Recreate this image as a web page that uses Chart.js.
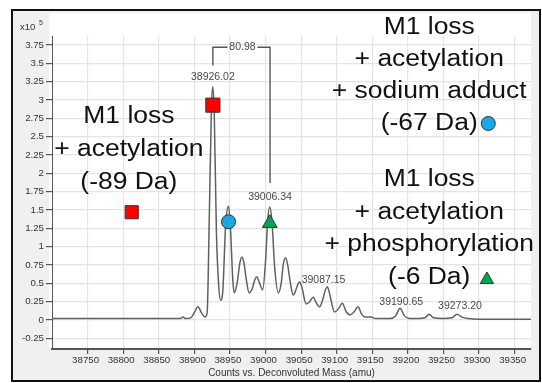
<!DOCTYPE html>
<html>
<head>
<meta charset="utf-8">
<script src="https://cdn.jsdelivr.net/npm/chart.js@4.4.0/dist/chart.umd.min.js"></script>
<style>
  html, body { margin: 0; padding: 0; background: #fff; }
</style>
</head>
<body>
<canvas id="spectrum" width="542" height="383"></canvas>
<script>
// deconvoluted spectrum, intensity in x10^5 counts
var masses = [38700, 38880, 38884, 38888, 38895, 38900, 38905, 38910, 38915, 38918,
  38921, 38924, 38926, 38928, 38931, 38934, 38937, 38940, 38944, 38948,
  38951, 38954, 38956, 38960, 38964, 38967, 38970, 38973, 38977, 38981,
  38985, 38988, 38991, 38996, 39000, 39003, 39006, 39009, 39013, 39018,
  39022, 39025, 39028, 39031, 39035, 39039, 39043, 39046, 39048, 39051,
  39057, 39062, 39067, 39071, 39076, 39081, 39084, 39087, 39090, 39097,
  39103, 39108, 39113, 39119, 39125, 39130, 39135, 39140, 39148, 39155,
  39165, 39175, 39183, 39189, 39195, 39202, 39215, 39224, 39230, 39236,
  39250, 39262, 39269, 39276, 39285, 39300, 39373];
var counts = [0.02, 0.02, 0.04, 0.02, 0.03, 0.1, 0.18, 0.1, 0.04, 0.1,
  1.4, 2.9, 3.18, 2.8, 1.2, 0.5, 0.27, 0.4, 1.3, 1.55,
  1.2, 0.55, 0.37, 0.5, 0.78, 0.86, 0.76, 0.55, 0.37, 0.42,
  0.55, 0.59, 0.52, 0.41, 0.8, 1.35, 1.54, 1.35, 0.7, 0.37,
  0.5, 0.76, 0.85, 0.76, 0.5, 0.34, 0.42, 0.5, 0.52, 0.45,
  0.22, 0.25, 0.31, 0.24, 0.18, 0.3, 0.41, 0.45, 0.36, 0.11,
  0.16, 0.23, 0.12, 0.07, 0.12, 0.18, 0.08, 0.04, 0.04, 0.02,
  0.02, 0.02, 0.06, 0.16, 0.06, 0.02, 0.02, 0.03, 0.08, 0.03,
  0.02, 0.03, 0.08, 0.04, 0.02, 0.01, 0.01];

var xTicks = [38750, 38800, 38850, 38900, 38950, 39000, 39050, 39100, 39150, 39200, 39250, 39300, 39350];
var yTicks = [-0.25, 0, 0.25, 0.5, 0.75, 1, 1.25, 1.5, 1.75, 2, 2.25, 2.5, 2.75, 3, 3.25, 3.5, 3.75];

// species markers
var squareMass = [38926, 38812];
var squareVal = [2.93, 1.47];
var circleMass = [38948, 39313];
var circleVal = [1.34, 2.68];
var triMass = [39006, 39311];
var triVal = [1.32, 0.55];

// peak labels
var peakText = ['38926.02', '39006.34', '39087.15', '39190.65', '39273.20'];
var peakMass = [38926.02, 39006.34, 39087.15, 39190.65, 39273.20];
var peakTextVal = [3.31, 1.68, 0.55, 0.245, 0.19];

var bracketMass = [38926.02, 39006.34];
var bracketText = '80.98';

var noteLeft = ['M1 loss', '+ acetylation', '(-89 Da)'];
var noteSodium = ['M1 loss', '+ acetylation', '+ sodium adduct', '(-67 Da)'];
var notePhospho = ['M1 loss', '+ acetylation', '+ phosphorylation', '(-6 Da)'];

var FONT = "'Liberation Sans', Arial, sans-serif";

function pts(xs, ys) {
  return xs.map(function (x, i) { return { x: x, y: ys[i] }; });
}

var frame = {
  id: 'frame',
  beforeDraw: function (chart) {
    var ctx = chart.ctx;
    var a = chart.chartArea;
    ctx.save();
    ctx.fillStyle = '#fff';
    ctx.fillRect(0, 0, chart.width, chart.height);
    ctx.fillStyle = '#f0f0f0';
    ctx.fillRect(12, 10, 528, 371);
    ctx.fillStyle = '#fff';
    ctx.fillRect(a.left - 3, 13, a.right - a.left + 3, a.bottom - 13);
    ctx.strokeStyle = '#111';
    ctx.lineWidth = 2;
    ctx.strokeRect(12, 10, 528, 371);
    // x10^5
    ctx.fillStyle = '#333';
    ctx.textBaseline = 'alphabetic';
    ctx.textAlign = 'left';
    ctx.font = '9.5px ' + FONT;
    ctx.fillText('x10', 20, 30);
    ctx.font = '7px ' + FONT;
    ctx.fillText('5', 39, 25);
    ctx.restore();
  }
};

function note(ctx, lines, cx, y0, step) {
  ctx.font = '23px ' + FONT;
  ctx.fillStyle = '#111';
  ctx.textAlign = 'center';
  ctx.textBaseline = 'middle';
  lines.forEach(function (t, i) {
    ctx.save();
    ctx.translate(cx, y0 + i * step);
    ctx.scale(1.15, 1);
    ctx.fillText(t, 0, 0);
    ctx.restore();
  });
}

var labels = {
  id: 'labels',
  afterDatasetsDraw: function (chart) {
    var ctx = chart.ctx;
    var xs = chart.scales.x, ys = chart.scales.y;
    ctx.save();
    // bracket between the two main peaks
    var bx0 = xs.getPixelForValue(bracketMass[0]);
    var bx1 = xs.getPixelForValue(bracketMass[1]);
    var by = ys.getPixelForValue(3.72);
    var mid = (bx0 + bx1) / 2;
    ctx.strokeStyle = '#555';
    ctx.lineWidth = 1.4;
    ctx.beginPath();
    ctx.moveTo(bx0, ys.getPixelForValue(3.47));
    ctx.lineTo(bx0, by);
    ctx.lineTo(mid - 14, by);
    ctx.moveTo(mid + 16, by);
    ctx.lineTo(bx1, by);
    ctx.lineTo(bx1, ys.getPixelForValue(1.87));
    ctx.stroke();
    ctx.fillStyle = '#4a4a4a';
    ctx.font = '10.5px ' + FONT;
    ctx.textAlign = 'center';
    ctx.textBaseline = 'middle';
    ctx.fillText(bracketText, mid + 1, by);
    peakText.forEach(function (t, i) {
      ctx.fillText(t, xs.getPixelForValue(peakMass[i]) - (i === 2 ? 4 : 0), ys.getPixelForValue(peakTextVal[i]));
    });
    note(ctx, noteLeft, xs.getPixelForValue(38808), ys.getPixelForValue(2.77), 33);
    note(ctx, noteSodium, xs.getPixelForValue(39230), ys.getPixelForValue(3.99), 32);
    note(ctx, notePhospho, xs.getPixelForValue(39230), ys.getPixelForValue(1.91), 32.5);
    ctx.restore();
  }
};

var ctx = document.getElementById('spectrum');
var spectrum = new Chart(ctx, {
  type: 'scatter',
  data: {
    datasets: [{
      type: 'line',
      data: pts(masses, counts),
      borderColor: '#606060',
      borderWidth: 1.5,
      pointRadius: 0,
      cubicInterpolationMode: 'monotone',
      order: 5
    }, {
      data: pts(squareMass, squareVal),
      pointStyle: 'rect',
      pointRadius: [10, 9.3],
      backgroundColor: '#ff0000',
      borderColor: '#333',
      borderWidth: 1,
      order: 0
    }, {
      data: pts(circleMass, circleVal),
      pointStyle: 'circle',
      pointRadius: 7,
      backgroundColor: '#18a8e6',
      borderColor: '#333',
      borderWidth: 1,
      order: 0
    }, {
      data: pts(triMass, triVal),
      pointStyle: 'triangle',
      pointRadius: [8.5, 7.7],
      backgroundColor: '#00a651',
      borderColor: '#333',
      borderWidth: 1,
      order: 0
    }]
  },
  options: {
    responsive: false,
    animation: false,
    devicePixelRatio: 1,
    layout: { padding: { left: 0, right: 4, top: 36, bottom: 0 } },
    plugins: {
      legend: { display: false },
      tooltip: { enabled: false }
    },
    scales: {
      x: {
        type: 'linear',
        min: 38700,
        max: 39373,
        afterBuildTicks: function (s) { s.ticks = xTicks.map(function (v) { return { value: v }; }); },
        afterFit: function (s) { s.height = 34; },
        ticks: {
          callback: function (v) { return String(v); },
          font: { size: 9.7, family: FONT },
          color: '#333',
          padding: 1,
          maxRotation: 0,
          autoSkip: false,
          labelOffset: -2
        },
        grid: { color: '#e4e4e4', lineWidth: 1.2, tickColor: '#555', tickLength: 5 },
        border: { color: '#555', width: 2 },
        title: {
          display: true,
          text: 'Counts vs. Deconvoluted Mass (amu)',
          font: { size: 10, family: FONT },
          color: '#333',
          padding: { top: 0, bottom: 4 }
        }
      },
      y: {
        type: 'linear',
        min: -0.395,
        max: 3.873,
        afterBuildTicks: function (s) { s.ticks = yTicks.map(function (v) { return { value: v }; }); },
        afterFit: function (s) { s.width = 52; },
        ticks: {
          callback: function (v) { return String(v); },
          font: { size: 9.7, family: FONT },
          color: '#333',
          padding: 2
        },
        grid: { color: '#e4e4e4', lineWidth: 1.2, tickColor: '#555', tickLength: 6 },
        border: { color: '#555', width: 1 }
      }
    }
  },
  plugins: [frame, labels]
});
</script>
</body>
</html>
